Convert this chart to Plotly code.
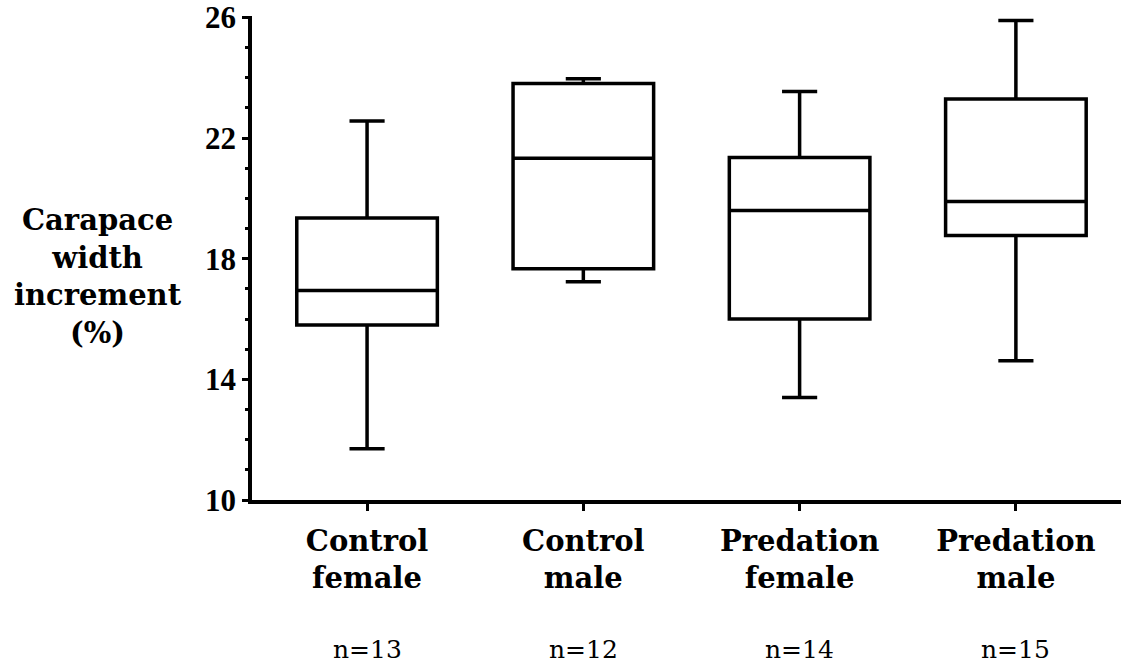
import plotly.graph_objects as go

# Data
categories = ["Control<br>female", "Control<br>male", "Predation<br>female", "Predation<br>male"]
n_labels = ["n=13", "n=12", "n=14", "n=15"]
lower_whisker = [11.7, 17.24, 13.4, 14.62]
q1_values = [15.8, 17.67, 16.0, 18.77]
median_values = [16.95, 21.33, 19.6, 19.9]
q3_values = [19.35, 23.81, 21.36, 23.3]
upper_whisker = [22.57, 23.97, 23.55, 25.9]
y_ticks = [10, 14, 18, 22, 26]

W, H = 1121, 668
ML, MR, MT, MB = 252, 0, 16, 168

fig = go.Figure()
fig.add_trace(go.Box(
    x=categories,
    q1=q1_values,
    median=median_values,
    q3=q3_values,
    lowerfence=lower_whisker,
    upperfence=upper_whisker,
    width=0.65,
    whiskerwidth=0.25,
    fillcolor="white",
    line=dict(color="black", width=3.5),
    boxpoints=False,
    hoverinfo="skip",
    showlegend=False,
))

fig.update_layout(
    width=W, height=H,
    margin=dict(l=ML, r=MR, t=MT, b=MB, pad=0),
    plot_bgcolor="white",
    paper_bgcolor="white",
    showlegend=False,
    xaxis=dict(
        type="category",
        categoryorder="array",
        categoryarray=categories,
        range=[-0.532, 3.486],
        showline=True, linecolor="black", linewidth=3.5,
        ticks="outside", ticklen=7, tickwidth=2.5, tickcolor="black",
        showgrid=False, zeroline=False,
        tickfont=dict(family="DejaVu Serif", size=29, color="black", weight="bold"),
        ticklabelstandoff=5,
    ),
    yaxis=dict(
        range=[10, 26.05],
        tickvals=y_ticks,
        ticktext=[f"<b>{v}</b>" for v in y_ticks],
        showline=True, linecolor="black", linewidth=3.5,
        ticks="outside", ticklen=6, tickwidth=2.5, tickcolor="black",
        minor=dict(dtick=1, tick0=10, ticks="outside", ticklen=3, tickwidth=2.5, tickcolor="black", showgrid=False),
        showgrid=False, zeroline=False,
        tickfont=dict(family="Liberation Serif", size=31, color="black"),
        ticklabelstandoff=0,
    ),
)

domain_w = W - ML - MR
domain_h = H - MT - MB

# Y-axis title (horizontal, stacked)
fig.add_annotation(
    text="<b>Carapace<br>width<br>increment<br>(%)</b>",
    xref="paper", yref="paper",
    x=(98 - ML) / domain_w, y=(H - MB - 276) / domain_h,
    xanchor="center", yanchor="middle",
    showarrow=False, align="center",
    font=dict(family="DejaVu Serif", size=29, color="black"),
)

# Sample size labels
for cat, lab in zip(categories, n_labels):
    fig.add_annotation(
        text=lab, xref="x", yref="paper",
        x=cat, y=(H - MB - 649) / domain_h,
        xanchor="center", yanchor="middle",
        showarrow=False,
        font=dict(family="DejaVu Serif", size=25, color="black"),
    )

fig.write_html("out.html")
